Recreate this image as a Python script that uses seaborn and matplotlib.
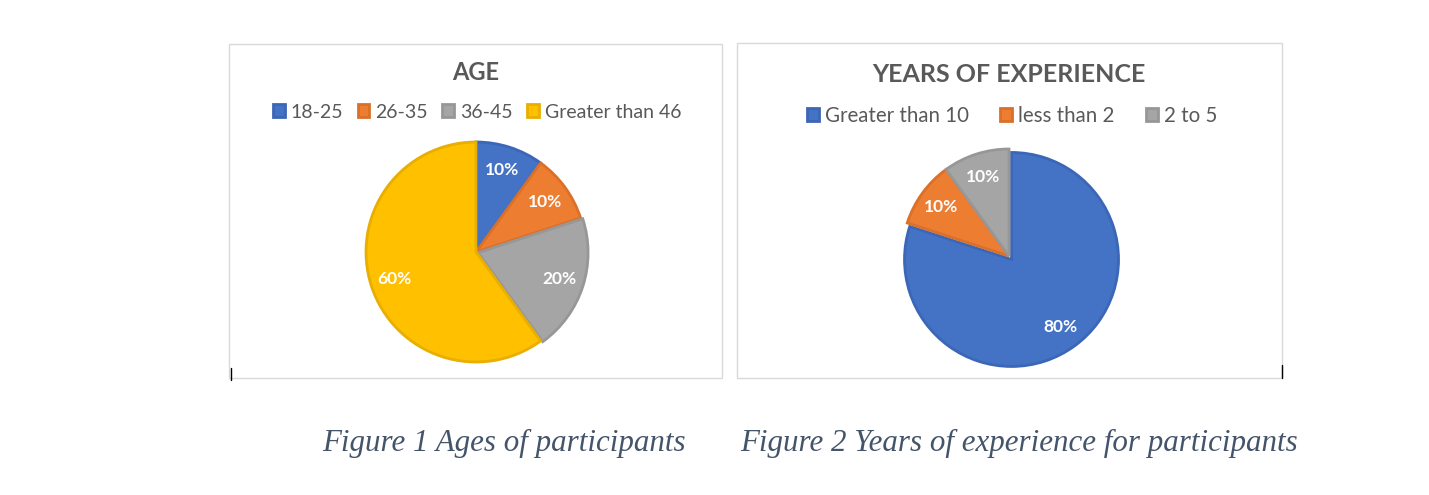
import matplotlib
matplotlib.use("Agg")
import matplotlib.pyplot as plt
from matplotlib.patches import Rectangle
from matplotlib.lines import Line2D
import seaborn as sns

# Data
age_labels = ["18-25", "26-35", "36-45", "Greater than 46"]
age_values = [10, 10, 20, 60]
exp_labels = ["Greater than 10", "less than 2", "2 to 5"]
exp_values = [80, 10, 10]

sns.set_theme(style="white")
plt.rcParams["font.family"] = ["Lato", "DejaVu Sans"]

W, H = 1429, 495
fig = plt.figure(figsize=(W / 100, H / 100), dpi=100)
fig.patch.set_facecolor("white")

blue, orange, gray, yellow = "#4472C4", "#ED7D31", "#A5A5A5", "#FFC000"
age_colors = sns.color_palette([blue, orange, gray, yellow])
exp_colors = sns.color_palette([blue, orange, gray])
edge_map = {blue: "#3C66B6", orange: "#DB7029", gray: "#979797", yellow: "#E8AE00"}


def fx(px):
    return px / W


def fy(py):
    return 1 - py / H


def box(x0, y0, x1, y1):
    fig.patches.append(Rectangle((fx(x0), fy(y1)), fx(x1) - fx(x0), fy(y0) - fy(y1),
                                 transform=fig.transFigure, fill=False,
                                 edgecolor="#D9D9D9", linewidth=1))


def pie_axes(cx, cy, r):
    ax = fig.add_axes([fx(cx - r), fy(cy + r), fx(2 * r), fy(cy - r) - fy(cy + r)])
    return ax


def draw_pie(ax, values, colors, hexes, explode):
    wedges, texts, autotexts = ax.pie(
        values, colors=colors, startangle=90, counterclock=False,
        autopct="%1.0f%%", pctdistance=0.78, explode=explode,
        wedgeprops=dict(linewidth=2),
        textprops=dict(color="white", fontsize=12.5, fontweight="bold"))
    for w, h in zip(wedges, hexes):
        w.set_edgecolor(edge_map[h])
        w.set_clip_on(False)
    ax.set_xlim(-1, 1)
    ax.set_ylim(-1, 1)
    ax.axis("off")
    return wedges


# Chart boxes
box(229, 44, 722, 378)
box(737, 43, 1282, 378)

# AGE pie
ax1 = pie_axes(476, 252, 110)
w1 = draw_pie(ax1, age_values, age_colors, [blue, orange, gray, yellow], [0, 0, 0.02, 0])
fig.text(fx(476), fy(80), "AGE", ha="center", va="baseline", fontsize=17,
         fontweight="bold", color="#595959")
fig.legend(w1, age_labels, loc="center", bbox_to_anchor=(fx(477), fy(112)), ncol=4,
           frameon=False, fontsize=14, handlelength=0.6, handleheight=0.6,
           handletextpad=0.3, columnspacing=0.75, labelcolor="#595959")

# Experience pie
ax2 = pie_axes(1009, 256, 107)
w2 = draw_pie(ax2, exp_values, exp_colors, [blue, orange, gray], [0.04, 0, 0])
fig.text(fx(1009), fy(82), "YEARS OF EXPERIENCE", ha="center", va="baseline", fontsize=18,
         fontweight="bold", color="#595959")
fig.legend(w2, exp_labels, loc="center", bbox_to_anchor=(fx(1012), fy(116)), ncol=3,
           frameon=False, fontsize=14.8, handlelength=0.6, handleheight=0.6,
           handletextpad=0.3, columnspacing=1.5, labelcolor="#595959")

# small cursor marks
fig.lines.append(Line2D([fx(231), fx(231)], [fy(368), fy(380)], transform=fig.transFigure,
                        color="black", linewidth=1))
fig.lines.append(Line2D([fx(1282), fx(1282)], [fy(365), fy(378)], transform=fig.transFigure,
                        color="black", linewidth=1))

# Captions
cap = dict(family=["Liberation Serif", "DejaVu Serif"], style="italic", fontsize=22.3,
           color="#44546A", va="center", ha="left")
fig.text(fx(322), fy(443), "Figure 1 Ages of participants", **cap)
fig.text(fx(740), fy(443), "Figure 2 Years of experience for participants", **cap)

fig.savefig("out.png", dpi=100)
